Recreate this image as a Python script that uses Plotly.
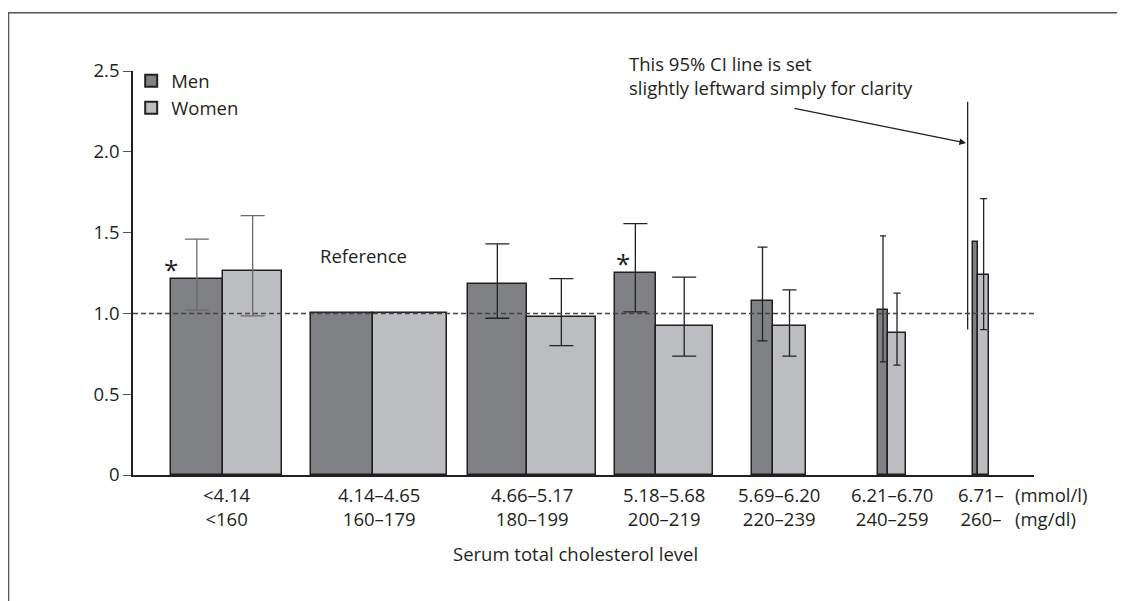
import plotly.graph_objects as go

# ---------------- data ----------------
mmol_labels = ["&lt;4.14", "4.14–4.65", "4.66–5.17", "5.18–5.68", "5.69–6.20", "6.21–6.70", "6.71–"]
mgdl_labels = ["&lt;160", "160–179", "180–199", "200–219", "220–239", "240–259", "260–"]

hr_men = [1.21, 1.00, 1.18, 1.25, 1.075, 1.02, 1.44]
hr_women = [1.26, 1.00, 0.975, 0.92, 0.92, 0.88, 1.24]

ci_low_men = [1.02, None, 0.97, 1.01, 0.83, 0.70, 0.90]
ci_high_men = [1.46, None, 1.43, 1.555, 1.41, 1.48, 2.31]
ci_low_women = [0.985, None, 0.80, 0.735, 0.735, 0.68, 0.90]
ci_high_women = [1.605, None, 1.215, 1.225, 1.145, 1.125, 1.71]

significant_men = [True, False, False, True, False, False, False]

y_tick_vals = [0, 0.5, 1.0, 1.5, 2.0, 2.5]
y_tick_text = ["0", "0.5", "1.0", "1.5", "2.0", "2.5"]

# ---------------- layout geometry (axis units, 1 unit = 100 px) ----------------
split_pos = [0.90, 2.397, 3.937, 5.227, 6.403, 7.553, 8.45]
width_men = [0.523, 0.617, 0.587, 0.407, 0.216, 0.106, 0.047]
width_women = [0.593, 0.74, 0.693, 0.57, 0.324, 0.174, 0.113]
cap_men = [12, 0, 12, 12, 5, 3, 0]
cap_women = [12, 0, 12, 12, 7, 3.5, 3.5]
err_color = ["#6a6a6a", "#222", "#222", "#222", "#222", "#222", "#222"]
ci_shift_men = [0, 0, 0, 0, 0, 0, -0.08]  # last men CI line is drawn leftward
star_shift = [0.0, 0, 0, 0.08, 0, 0, 0]

MEN_COLOR = "#808185"
WOMEN_COLOR = "#bcbdc0"
EDGE = "#231f20"
FONT = "Open Sans"
FS = 18.5
TXT = "#231f20"

W, H = 1125, 601
PAGE_OFF = 8  # default page body margin of the HTML page
# plot area in screen pixels
SX0, SX1, SY0, SY1 = 133, 1034, 71, 475
L = SX0 - PAGE_OFF
R = W - (SX1 - PAGE_OFF)
T = SY0 - PAGE_OFF
B = H - (SY1 - PAGE_OFF)
XMAX = (SX1 - SX0) / 100.0


def px_x(px):
    return (px - SX0) / 100.0


def py_paper(py):
    return (SY1 - py) / (SY1 - SY0)


def px_paper(px):
    return (px - SX0) / (SX1 - SX0)


men_centers = [s - w / 2 for s, w in zip(split_pos, width_men)]
women_centers = [s + w / 2 for s, w in zip(split_pos, width_women)]
group_centers = [(s - wm + s + ww) / 2 for s, wm, ww in zip(split_pos, width_men, width_women)]

fig = go.Figure()

fig.add_trace(go.Bar(
    name="Men", x=split_pos, y=hr_men, width=width_men,
    offset=[-w for w in width_men],
    marker=dict(color=MEN_COLOR, line=dict(color=EDGE, width=1.5)),
))
fig.add_trace(go.Bar(
    name="Women", x=split_pos, y=hr_women, width=width_women,
    offset=[0] * len(width_women),
    marker=dict(color=WOMEN_COLOR, line=dict(color=EDGE, width=1.5)),
))

# error bars
for i in range(len(hr_men)):
    if ci_low_men[i] is not None:
        fig.add_trace(go.Scatter(
            x=[men_centers[i] + ci_shift_men[i]], y=[hr_men[i]], mode="markers",
            marker=dict(opacity=0, size=1), showlegend=False, hoverinfo="skip",
            error_y=dict(type="data", symmetric=False,
                         array=[ci_high_men[i] - hr_men[i]],
                         arrayminus=[hr_men[i] - ci_low_men[i]],
                         width=cap_men[i], thickness=1.3, color=err_color[i]),
        ))
    if ci_low_women[i] is not None:
        fig.add_trace(go.Scatter(
            x=[women_centers[i]], y=[hr_women[i]], mode="markers",
            marker=dict(opacity=0, size=1), showlegend=False, hoverinfo="skip",
            error_y=dict(type="data", symmetric=False,
                         array=[ci_high_women[i] - hr_women[i]],
                         arrayminus=[hr_women[i] - ci_low_women[i]],
                         width=cap_women[i], thickness=1.3, color=err_color[i]),
        ))

annotations = []
# asterisks
for i, sig in enumerate(significant_men):
    if sig:
        annotations.append(dict(
            x=split_pos[i] - width_men[i] + star_shift[i],
            y=hr_men[i], xref="x", yref="y", text="*", showarrow=False,
            font=dict(family=FONT, size=26, color=TXT), yanchor="middle", yshift=10,
        ))

# x category labels (two rows) under each group
for gc, a, b in zip(group_centers, mmol_labels, mgdl_labels):
    annotations.append(dict(
        x=gc, y=py_paper(506), xref="x", yref="paper", text=f"{a}<br>{b}",
        showarrow=False, align="center", xanchor="center", yanchor="middle",
        font=dict(family=FONT, size=FS, color=TXT),
    ))

annotations += [
    dict(x=px_x(363), y=py_paper(256), xref="x", yref="paper", text="Reference",
         showarrow=False, xanchor="center", yanchor="middle",
         font=dict(family=FONT, size=FS, color=TXT)),
    dict(x=px_x(627), y=py_paper(75), xref="x", yref="paper",
         text="This 95% CI line is set<br>slightly leftward simply for clarity",
         showarrow=False, align="left", xanchor="left", yanchor="middle",
         font=dict(family=FONT, size=FS, color=TXT)),
    dict(x=px_x(966), y=py_paper(143), xref="x", yref="paper", text="",
         showarrow=True, ax=793 - 966, ay=108 - 143, axref="pixel", ayref="pixel",
         arrowhead=2, arrowsize=1.1, arrowwidth=1.2, arrowcolor=TXT),
    dict(x=px_x(1013), y=py_paper(506), xref="x", yref="paper",
         text="(mmol/l)<br>(mg/dl)", showarrow=False, align="left",
         xanchor="left", yanchor="middle", font=dict(family=FONT, size=FS, color=TXT)),
    dict(x=px_x(575), y=py_paper(553), xref="x", yref="paper",
         text="Serum total cholesterol level", showarrow=False,
         xanchor="center", yanchor="middle",
         font=dict(family=FONT, size=FS, color=TXT)),
    dict(x=px_x(64), y=py_paper(274), xref="x", yref="paper", text="Hazard ratio",
         textangle=-90, showarrow=False, xanchor="center", yanchor="middle",
         font=dict(family=FONT, size=FS, color=TXT)),
]

shapes = [
    dict(type="line", xref="paper", yref="y", x0=0, x1=1, y0=1.0, y1=1.0,
         line=dict(color="#444", width=1.5, dash="5px,3px"), layer="above"),
    dict(type="rect", xref="paper", yref="paper",
         x0=px_paper(8.5), x1=1.3, y0=-0.6, y1=py_paper(12.7),
         line=dict(color="#555", width=1.5), layer="below"),
]

fig.update_layout(
    width=W, height=H, autosize=False,
    margin=dict(l=L, r=R, t=T, b=B, autoexpand=False),
    plot_bgcolor="white", paper_bgcolor="white",
    barmode="overlay", bargap=0,
    font=dict(family=FONT, size=FS, color=TXT),
    showlegend=True,
    legend=dict(x=-0.002, y=1.022, xanchor="left", yanchor="top",
                bgcolor="rgba(0,0,0,0)", font=dict(family=FONT, size=FS, color=TXT),
                itemsizing="constant", tracegroupgap=0),
    annotations=annotations, shapes=shapes,
    xaxis=dict(range=[0, XMAX], showgrid=False, zeroline=False, showline=True,
               linecolor=EDGE, linewidth=2, ticks="", showticklabels=False,
               fixedrange=True),
    yaxis=dict(range=[0, 2.5], showgrid=False, zeroline=False, showline=True,
               linecolor=EDGE, linewidth=1.5, ticks="outside", ticklen=8,
               tickcolor="#555", tickwidth=1.2,
               tickvals=y_tick_vals, ticktext=y_tick_text,
               tickfont=dict(family=FONT, size=FS, color=TXT), fixedrange=True),
)

fig.write_html("out.html")
